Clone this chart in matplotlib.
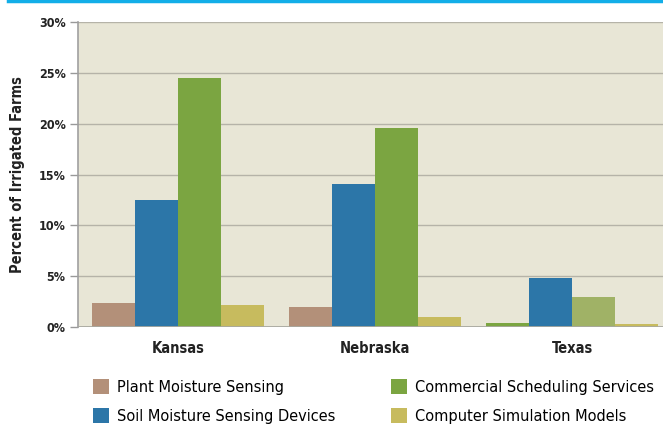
import matplotlib
matplotlib.use("Agg")
import matplotlib.pyplot as plt
import numpy as np
from matplotlib.patches import Patch
from matplotlib.lines import Line2D

categories = ["Kansas", "Nebraska", "Texas"]
series_names = ["Plant Moisture Sensing", "Soil Moisture Sensing Devices",
                "Commercial Scheduling Services", "Computer Simulation Models"]
plant = [2.4, 2.0, 0.4]
soil = [12.5, 14.1, 4.8]
commercial = [24.5, 19.6, 3.0]
computer = [2.2, 1.0, 0.3]
yticks = [0, 5, 10, 15, 20, 25, 30]
ytick_labels = ["0%", "5%", "10%", "15%", "20%", "25%", "30%"]

brown = "#b39079"
blue = "#2c76a8"
green = "#7ba541"
lgreen = "#a0b266"
yellow = "#c7bb5e"
series_colors = [brown, blue, green, yellow]
# per-bar colours as drawn in the reference (Texas uses different shading)
bar_colors = [
    [brown, brown, green],
    [blue, blue, blue],
    [green, green, lgreen],
    [yellow, yellow, yellow],
]

plt.rcParams['font.family'] = ['DejaVu Sans']
plt.rcParams['font.stretch'] = 'condensed'

fig = plt.figure(figsize=(6.63, 4.25), dpi=100)
ax = fig.add_axes([78/663, 1-327/425, 1-78/663, (327-22)/425])
ax.set_facecolor("#e8e6d6")

x = np.arange(len(categories))
w = 0.218
allvals = [plant, soil, commercial, computer]
for i, vals in enumerate(allvals):
    ax.bar(x + (i - 1.5) * w, vals, width=w, color=bar_colors[i], zorder=3, linewidth=0)

ax.set_xlim(-0.508, 2.462)
ax.set_ylim(0, 30)
ax.set_yticks(yticks)
ax.set_yticklabels(ytick_labels, fontsize=9, fontweight='bold', color="#222222")
for yv in yticks[1:]:
    ax.axhline(yv, color="#b5b3a8", lw=1.0, zorder=1)
ax.axhline(0, color="#a8a8a0", lw=2.0, zorder=4)
ax.tick_params(axis='y', length=6, color="#999999", width=1, pad=3)
ax.tick_params(axis='x', length=0, pad=10)
ax.set_xticks(x)
ax.set_xticklabels(categories, fontsize=10.5, fontweight='bold', color="#222222")
for s in ["top", "right", "bottom"]:
    ax.spines[s].set_visible(False)
ax.spines["left"].set_color("#a0a0a0")
ax.spines["left"].set_linewidth(1.2)
ax.set_ylabel("Percent of Irrigated Farms", fontsize=10.5, fontweight='bold', color="#222222", labelpad=10)

# top cyan rule
fig.add_artist(Line2D([8/663, 1], [1-1/425, 1-1/425], color="#12aee8", lw=2.5))

handles = [Patch(facecolor=c, edgecolor='none') for c in series_colors]
for k, xa in ((0, 86/663), (2, 384/663)):
    fig.legend(handles[k:k+2], series_names[k:k+2], loc='lower left',
               bbox_to_anchor=(xa, -0.013), frameon=False, fontsize=11.7,
               handlelength=1.0, handleheight=1.0, handletextpad=0.5,
               labelspacing=0.8, borderaxespad=0)

fig.savefig("out.png", dpi=100)
